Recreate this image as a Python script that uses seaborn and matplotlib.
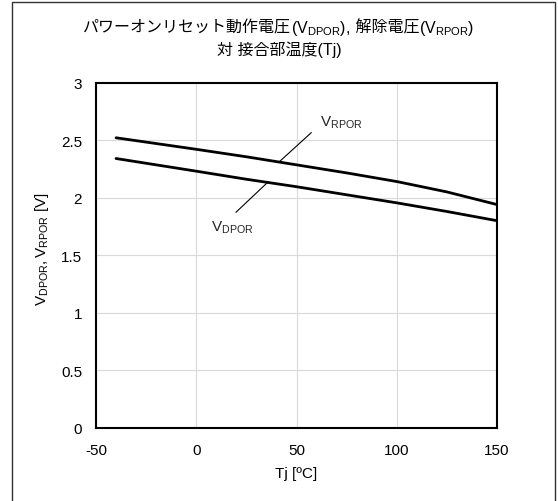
import matplotlib
matplotlib.use("Agg")
import matplotlib.pyplot as plt
import seaborn as sns
import pandas as pd
from matplotlib.offsetbox import TextArea, HPacker, AnnotationBbox
from matplotlib.patches import Rectangle

# ---- data ----
tj = [-40, 0, 25, 50, 75, 100, 125, 150]
v_rpor = [2.52, 2.42, 2.355, 2.285, 2.215, 2.14, 2.05, 1.94]
v_dpor = [2.34, 2.23, 2.16, 2.095, 2.025, 1.955, 1.88, 1.80]
x_ticks = [-50, 0, 50, 100, 150]
y_ticks = [0, 0.5, 1, 1.5, 2, 2.5, 3]

df = pd.DataFrame({"Tj": tj * 2,
                   "V": v_rpor + v_dpor,
                   "series": ["VRPOR"] * len(tj) + ["VDPOR"] * len(tj)})

sns.set_theme(style="white")
LAT = ["Liberation Sans", "Noto Sans CJK JP", "DejaVu Sans"]
plt.rcParams["font.family"] = LAT
plt.rcParams["mathtext.fontset"] = "custom"
plt.rcParams["mathtext.rm"] = "Liberation Sans"
plt.rcParams["mathtext.it"] = "Liberation Sans:italic"
plt.rcParams["mathtext.bf"] = "Liberation Sans:bold"

FS = 11
TFS = 11.5
fig = plt.figure(figsize=(5.58, 5.02), dpi=100)
ax = fig.add_axes([96 / 558, 1 - 429 / 502, (497 - 96) / 558, (429 - 83.5) / 502])

sns.lineplot(data=df, x="Tj", y="V", hue="series", palette=["black", "black"],
             linewidth=2.0, legend=False, ax=ax, sort=False)

ax.set_xlim(-50, 150)
ax.set_ylim(0, 3)
ax.set_xticks(x_ticks)
ax.set_yticks(y_ticks)
ax.set_xticklabels([str(t) for t in x_ticks])
ax.set_yticklabels([f"{t:g}" for t in y_ticks])
ax.grid(True, color="#d9d9d9", linewidth=0.8)
ax.set_axisbelow(True)
for s in ax.spines.values():
    s.set_color("black")
    s.set_linewidth(1.5)
ax.tick_params(axis="both", length=0, labelsize=FS, colors="black")
ax.tick_params(axis="x", pad=11)
ax.tick_params(axis="y", pad=10)
ax.set_xlabel("Tj [ºC]", fontsize=FS, color="black", labelpad=6)
ax.set_ylabel(r"$\mathregular{V_{DPOR}, V_{RPOR}}$ [V]", fontsize=FS, color="black")
ax.yaxis.set_label_coords(-0.112, 0.52)

# annotations (leader lines + labels)
ax.plot([57.4, 41.0], [2.565, 2.305], color="black", linewidth=0.8)
ax.plot([35.6, 19.8], [2.133, 1.873], color="black", linewidth=0.8)
ax.text(61.5, 2.655, r"$\mathregular{V_{RPOR}}$", fontsize=FS, ha="left", va="center")
ax.text(7.3, 1.748, r"$\mathregular{V_{DPOR}}$", fontsize=FS, ha="left", va="center")

# title (mixed CJK + subscripts)
cjk = dict(fontsize=TFS, fontfamily=LAT, color="black")
lat = dict(fontsize=TFS, color="black")
parts = [TextArea("パワーオンリセット動作電圧", textprops=cjk),
         TextArea(r"($\mathregular{V_{DPOR}}$),", textprops=lat),
         TextArea(" 解除電圧", textprops=cjk),
         TextArea(r"($\mathregular{V_{RPOR}}$)", textprops=lat)]
box = HPacker(children=parts, align="baseline", pad=0, sep=0)
ab = AnnotationBbox(box, (0.5, 1 - 28 / 502), xycoords="figure fraction",
                    box_alignment=(0.5, 0.5), frameon=False)
fig.add_artist(ab)
fig.text(0.5, 1 - 50 / 502, "対 接合部温度(Tj)", fontsize=TFS, fontfamily=LAT,
         ha="center", va="center", color="black")

# outer frame
fig.add_artist(Rectangle((11.5 / 558, -0.01), (555 - 11.5) / 558, 1 - 2.5 / 502 + 0.01,
                         transform=fig.transFigure, fill=False,
                         edgecolor="#333333", linewidth=1.0))

fig.savefig("out.png", dpi=100)
